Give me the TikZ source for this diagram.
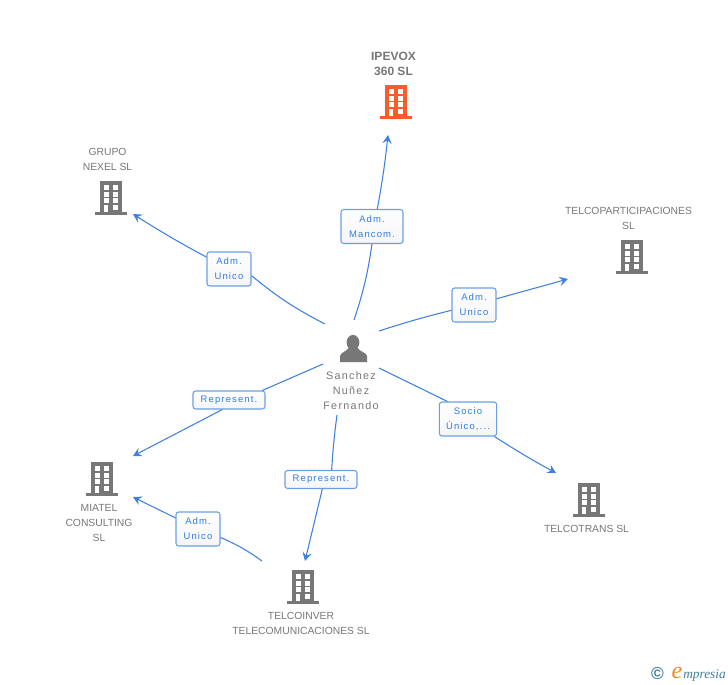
\documentclass[tikz,border=0pt]{standalone}
\usepackage{fontspec}
\setmainfont{Liberation Sans}
\newfontfamily\spacedfont[LetterSpace=12]{Liberation Sans}
\newfontfamily\logofont{Liberation Serif}
\usepackage{tikz}
\usetikzlibrary{arrows.meta}
\definecolor{bldgray}{HTML}{777777}
\definecolor{bldorange}{HTML}{FF5A2B}
\definecolor{linkblue}{HTML}{3F80E0}
\definecolor{boxblue}{HTML}{6A9FE6}
\definecolor{roletext}{HTML}{2F7DE6}
\definecolor{logoteal}{HTML}{3E7F98}
\definecolor{logoorange}{HTML}{F08A1D}
\tikzstyle{link} = [linkblue,line width=0.8pt]
\tikzstyle{arrow} = [link,-{Stealth[length=6.5pt,width=7pt,inset=2.5pt]}]
\tikzstyle{role} = [draw=boxblue,thick,rounded corners=2pt,top color=white,bottom color=black!4,text=roletext,align=center,inner sep=0pt,font=\spacedfont\fontsize{7.1}{11.25}\selectfont]
\tikzstyle{firm} = [text=bldgray,align=center,inner sep=0pt,font=\fontsize{7.75}{11.25}\selectfont]
\tikzset{
	pics/building/.style={code={
		\fill[#1] (-11,-17) rectangle (11,15);
		\fill[#1] (-16,14) rectangle (16,17);
		\foreach \y in {-13,-6,0}{
			\fill[white] (-7,\y) rectangle ++(4.6,4.6);
			\fill[white] (2,\y) rectangle ++(4.6,4.6);
		}
		\fill[white] (-7,7) rectangle (-2.6,14);
		\fill[white] (2,7) rectangle ++(4.6,4.6);
	}}
}

\begin{document}
\begin{tikzpicture}[x=0.75pt,y=-0.75pt]
	\useasboundingbox (0,0) rectangle (728,685);

	\pic at (396,102) {building=bldorange};
	\foreach \x/\y in {111/198,632/257,102/479,589/500,303/587}{
		\pic at (\x,\y) {building=bldgray};
	}

	\node[firm,font=\bfseries\fontsize{9}{11.25}\selectfont] (ipevox) at (393.5,63.5) {IPEVOX\\360 SL};
	\node[firm] (grupo) at (107.5,159.5) {GRUPO\\NEXEL SL};
	\node[firm] (telcopart) at (628.5,218.5) {TELCOPARTICIPACIONES\\SL};
	\node[firm] (miatel) at (99,523) {MIATEL\\CONSULTING\\SL};
	\node[firm] (telcotrans) at (586.5,529) {TELCOTRANS SL};
	\node[firm] (telcoinver) at (301,623.5) {TELCOINVER\\TELECOMUNICACIONES SL};

	\fill[bldgray] (353,342.5) ellipse (6.4 and 7.6);
	\fill[bldgray] (340,362) -- (340,356) .. controls (341,352) and (346,352) .. (348.5,348) -- (357.5,348) .. controls (360,352) and (366,352) .. (367,356) -- (367,362) -- cycle;
	\node[firm,font=\spacedfont\fontsize{8.1}{11.25}\selectfont] (sanchez) at (351,391) {Sanchez\\Nuñez\\Fernando};

	\coordinate (fromN) at (354,320);
	\coordinate (fromNW) at (325,324);
	\coordinate (fromE) at (379,331);
	\coordinate (fromSE) at (379,368);
	\coordinate (fromSW) at (323,364);
	\coordinate (fromS) at (337,415);
	\coordinate (fromBottom) at (262,561);
	\coordinate (toIpevox) at (388,135);
	\coordinate (toGrupo) at (133,214);
	\coordinate (toTelcopart) at (568,279);
	\coordinate (toTelcotrans) at (556,473);
	\coordinate (toMiatelA) at (133,456);
	\coordinate (toMiatelB) at (133,497);
	\coordinate (toTelcoinver) at (305,561);

	\node[role,minimum width=46.5pt,minimum height=25.5pt] (mancom) at (372,226.5) {Adm.\\Mancom.};
	\node[role,minimum width=33pt,minimum height=25.5pt] (unicoA) at (229,269) {Adm.\\Unico};
	\node[role,minimum width=33pt,minimum height=25.5pt] (unicoB) at (474,305) {Adm.\\Unico};
	\node[role,minimum width=43pt,minimum height=25.5pt] (socio) at (468,419) {Socio\\Único,...};
	\node[role,minimum width=54pt,minimum height=13.5pt] (representA) at (229,400) {Represent.};
	\node[role,minimum width=54pt,minimum height=13.5pt] (representB) at (321,479.5) {Represent.};
	\node[role,minimum width=33pt,minimum height=25.5pt] (unicoC) at (198,529) {Adm.\\Unico};

	\draw[link] (fromN) to[bend right=5] (mancom.south);
	\draw[arrow] ([xshift=4pt]mancom.north) to[bend right=2] (toIpevox);
	\draw[link] (fromNW) to[bend left=6] ([yshift=-5pt]unicoA.east);
	\draw[arrow] (unicoA) to[bend left=2] (toGrupo);
	\draw[link] (fromE) to[bend left=2] (unicoB);
	\draw[arrow] (unicoB) to (toTelcopart);
	\draw[link] (fromSE) to ([xshift=6.5pt]socio.north west);
	\draw[arrow] (socio) to[bend right=2] (toTelcotrans);
	\draw[link] (fromSW) to ([xshift=25pt]representA.north);
	\draw[arrow] ([xshift=-5pt]representA.south) to (toMiatelA);
	\draw[link] (fromS) to[bend right=2] ([xshift=8pt]representB.north);
	\draw[arrow] ([xshift=1pt]representB.south) to (toTelcoinver);
	\draw[link] (fromBottom) to[bend right=6] (unicoC);
	\draw[arrow] (unicoC) to (toMiatelB);

	\node[text=logoteal,inner sep=0pt,font=\bfseries\fontsize{13}{13}\selectfont] (copyright) at (657.5,674) {\copyright};
	\node[text=logoorange,inner sep=0pt,font=\logofont\itshape\fontsize{18}{18}\selectfont] (logoE) at (677,672.5) {e};
	\node[text=logoteal,inner sep=0pt,anchor=west,font=\logofont\itshape\fontsize{10}{10}\selectfont] (logoText) at (683,675) {mpresia};
\end{tikzpicture}
\end{document}
